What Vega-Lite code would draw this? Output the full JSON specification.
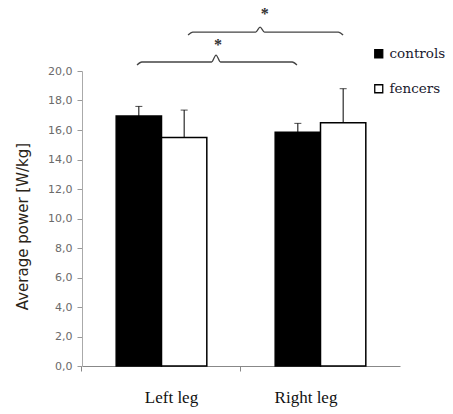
{
  "$schema": "https://vega.github.io/schema/vega-lite/v6.json",
  "autosize": {"type": "none"},
  "padding": {"left": 82, "top": 71, "right": 53, "bottom": 48},
  "width": 318,
  "height": 295,
  "background": "white",
  "config": {
    "view": {"stroke": null},
    "legend": {"labelFont": "DejaVu Serif", "labelFontSize": 13.5, "labelColor": "#1a1a2e", "labelLimit": 0}
  },
  "datasets": {
    "bars": [
      {"leg": "Left leg", "group": "controls", "mean": 16.95, "upper": 17.6},
      {"leg": "Left leg", "group": "fencers", "mean": 15.5, "upper": 17.35},
      {"leg": "Right leg", "group": "controls", "mean": 15.85, "upper": 16.45},
      {"leg": "Right leg", "group": "fencers", "mean": 16.5, "upper": 18.8}
    ],
    "braces": [
      {"pair": "controls", "ord": 1, "pos": 0.346, "level": 20.41},
      {"pair": "controls", "ord": 2, "pos": 0.376, "level": 20.61},
      {"pair": "controls", "ord": 3, "pos": 0.815, "level": 20.61},
      {"pair": "controls", "ord": 4, "pos": 0.843, "level": 21.08},
      {"pair": "controls", "ord": 5, "pos": 0.871, "level": 20.61},
      {"pair": "controls", "ord": 6, "pos": 1.322, "level": 20.61},
      {"pair": "controls", "ord": 7, "pos": 1.352, "level": 20.41},
      {"pair": "fencers", "ord": 1, "pos": 0.667, "level": 22.44},
      {"pair": "fencers", "ord": 2, "pos": 0.697, "level": 22.64},
      {"pair": "fencers", "ord": 3, "pos": 1.092, "level": 22.64},
      {"pair": "fencers", "ord": 4, "pos": 1.12, "level": 22.98},
      {"pair": "fencers", "ord": 5, "pos": 1.148, "level": 22.64},
      {"pair": "fencers", "ord": 6, "pos": 1.612, "level": 22.64},
      {"pair": "fencers", "ord": 7, "pos": 1.642, "level": 22.44}
    ],
    "stars": [
      {"pair": "controls", "pos": 0.855, "level": 21.45, "mark": "*"},
      {"pair": "fencers", "pos": 1.15, "level": 23.55, "mark": "*"}
    ]
  },
  "resolve": {"scale": {"x": "independent"}, "axis": {"x": "independent"}},
  "encoding": {
    "y": {
      "field": "mean", "type": "quantitative",
      "scale": {"domain": [0, 20], "nice": false, "zero": true},
      "axis": {
        "title": "Average power [W/kg]",
        "values": [0, 2, 4, 6, 8, 10, 12, 14, 16, 18, 20],
        "format": ".1f",
        "labelExpr": "replace(datum.label, '.', ',')",
        "labelOverlap": false,
        "grid": false, "domainColor": "#aaa", "tickColor": "#999", "tickSize": 5,
        "labelFont": "DejaVu Sans", "labelFontSize": 11, "labelColor": "#6a6a6a", "labelPadding": 5,
        "titleFont": "DejaVu Sans", "titleFontSize": 15, "titleFontWeight": "normal",
        "titleColor": "#2a2418", "titlePadding": 17, "titleY": 155
      }
    }
  },
  "layer": [
    {
      "data": {"name": "bars"},
      "encoding": {
        "x": {
          "field": "leg", "type": "nominal",
          "scale": {"paddingInner": 0.43, "paddingOuter": 0.215},
          "axis": {
            "title": null, "domainColor": "#888", "tickColor": "#888", "tickSize": 5,
            "bandPosition": -0.378, "labelAngle": 0,
            "labelFont": "Liberation Serif", "labelFontSize": 17, "labelColor": "#111",
            "labelPadding": 18,
            "labelOffset": {"condition": {"test": "datum.value === 'Left leg'", "value": 10}, "value": -14.5}
          }
        },
        "xOffset": {"field": "group", "type": "nominal", "scale": {"domain": ["controls", "fencers"], "paddingInner": 0, "paddingOuter": 0}}
      },
      "layer": [
        {
          "mark": {"type": "bar", "stroke": "black", "strokeWidth": 1.5},
          "encoding": {
            "fill": {
              "field": "group", "type": "nominal",
              "scale": {"domain": ["controls", "fencers"], "range": ["black", "white"]},
              "legend": {
                "orient": "none", "legendX": 290, "legendY": -24, "title": null,
                "symbolType": "square", "symbolSize": 64, "symbolStrokeColor": "black",
                "symbolStrokeWidth": 1.3, "rowPadding": 20, "labelOffset": 4, "padding": 0
              }
            }
          }
        },
        {
          "mark": {"type": "rule", "color": "black", "strokeWidth": 1},
          "encoding": {"y2": {"field": "upper"}}
        },
        {
          "mark": {"type": "tick", "color": "black", "thickness": 1, "size": 7},
          "encoding": {"y": {"field": "upper", "type": "quantitative"}}
        }
      ]
    },
    {
      "data": {"name": "braces"},
      "mark": {"type": "line", "color": "#444", "strokeWidth": 1.3, "interpolate": "monotone"},
      "encoding": {
        "x": {"field": "pos", "type": "quantitative", "scale": {"domain": [0, 2], "nice": false, "zero": false}, "axis": null},
        "y": {"field": "level", "type": "quantitative"},
        "detail": {"field": "pair"},
        "order": {"field": "ord", "type": "quantitative"}
      }
    },
    {
      "data": {"name": "stars"},
      "mark": {"type": "text", "font": "Liberation Serif", "fontSize": 16, "fontWeight": "bold", "color": "#333", "baseline": "alphabetic"},
      "encoding": {
        "x": {"field": "pos", "type": "quantitative", "scale": {"domain": [0, 2], "nice": false, "zero": false}, "axis": null},
        "y": {"field": "level", "type": "quantitative"},
        "text": {"field": "mark"}
      }
    }
  ]
}
